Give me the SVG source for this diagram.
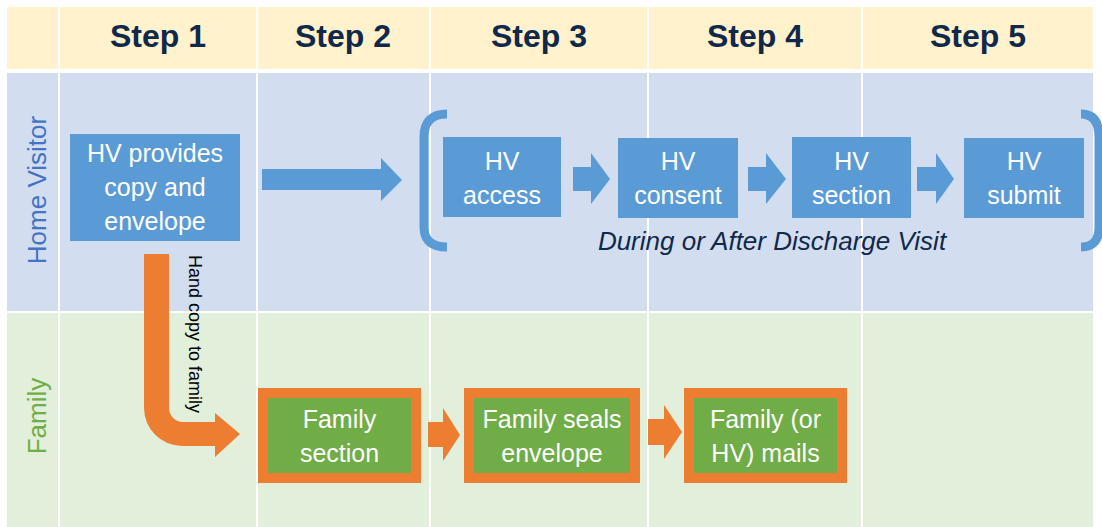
<svg xmlns="http://www.w3.org/2000/svg" width="1102" height="527" viewBox="0 0 1102 527">
<defs>
<style>
.hdr{font-family:"Liberation Sans",Arial,sans-serif;font-weight:bold;font-size:32px;fill:#10284A;text-anchor:middle}
.lane{font-family:"Liberation Sans",Arial,sans-serif;font-size:26px;text-anchor:middle}
.bt{font-family:"Liberation Sans",Arial,sans-serif;font-size:25px;fill:#ffffff;text-anchor:middle}
.blue{fill:#5B9BD5}
.orange{fill:#ED7D31}
.fam{fill:#70AD47;stroke:#ED7D31;stroke-width:10}
.brk{fill:none;stroke:#5B9BD5;stroke-width:9;stroke-linecap:butt}
.div{fill:#ffffff}
</style>
</defs>
<rect x="0" y="0" width="1102" height="527" fill="#ffffff"/>
<g id="table">
<rect x="7" y="7" width="1086" height="62" fill="#FFF2CC"/>
<rect x="7" y="73" width="1086" height="238" fill="#D2DEEF"/>
<rect x="7" y="313" width="1086" height="214" fill="#E2EFDA"/>
<rect class="div" x="58" y="7" width="2" height="520"/>
<rect class="div" x="256" y="7" width="2" height="520"/>
<rect class="div" x="429" y="7" width="2" height="520"/>
<rect class="div" x="647" y="7" width="2" height="520"/>
<rect class="div" x="861" y="7" width="2" height="520"/>
<text class="hdr" x="158" y="47">Step 1</text>
<text class="hdr" x="343" y="47">Step 2</text>
<text class="hdr" x="539" y="47">Step 3</text>
<text class="hdr" x="755" y="47">Step 4</text>
<text class="hdr" x="978" y="47">Step 5</text>
<text class="lane" fill="#4472C4" transform="translate(46,190) rotate(-90)">Home Visitor</text>
<text class="lane" fill="#70AD47" transform="translate(46,416) rotate(-90)" font-size="25">Family</text>
</g>
<g id="n-provides">
<rect class="blue" x="70" y="134" width="170" height="107"/>
<text class="bt" x="155" y="162">HV provides</text>
<text class="bt" x="155" y="196">copy and</text>
<text class="bt" x="155" y="230">envelope</text>
</g>
<g id="n-access">
<rect class="blue" x="443" y="137" width="118" height="80"/>
<text class="bt" x="502" y="170">HV</text>
<text class="bt" x="502" y="204">access</text>
</g>
<g id="n-consent">
<rect class="blue" x="618" y="138" width="120" height="80"/>
<text class="bt" x="678" y="170">HV</text>
<text class="bt" x="678" y="204">consent</text>
</g>
<g id="n-section">
<rect class="blue" x="792" y="137" width="119" height="81"/>
<text class="bt" x="851.5" y="170">HV</text>
<text class="bt" x="851.5" y="204">section</text>
</g>
<g id="n-submit">
<rect class="blue" x="964" y="138" width="120" height="80"/>
<text class="bt" x="1024" y="170">HV</text>
<text class="bt" x="1024" y="204">submit</text>
</g>
<g id="visit-group">
<path class="brk" d="M447,114 Q424,114 424,137 V227 Q424,247 447,247"/>
<path class="brk" d="M1081,114 Q1099,114 1099,137 V227 Q1099,247 1081,247"/>
<text x="772" y="250" font-family="'Liberation Sans',Arial,sans-serif" font-size="26" font-style="italic" fill="#10284A" text-anchor="middle">During or After Discharge Visit</text>
</g>
<g id="n-fam-section">
<rect class="fam" x="263" y="393" width="153" height="85"/>
<text class="bt" x="339.5" y="428">Family</text>
<text class="bt" x="339.5" y="462">section</text>
</g>
<g id="n-fam-seals">
<rect class="fam" x="469" y="393" width="166" height="85"/>
<text class="bt" x="552" y="428">Family seals</text>
<text class="bt" x="552" y="462">envelope</text>
</g>
<g id="n-fam-mails">
<rect class="fam" x="689" y="393" width="153" height="85"/>
<text class="bt" x="765.5" y="428">Family (or</text>
<text class="bt" x="765.5" y="462">HV) mails</text>
</g>
<g id="connectors">
<path class="blue" d="M262,169 H381 V158 L402,180 L381,201 V190 H262 Z"/>
<path class="blue" d="M573,167 H591 V153 L610,179 L591,204 V191 H573 Z"/>
<path class="blue" d="M748,167 H766 V153 L786,179 L766,204 V191 H748 Z"/>
<path class="blue" d="M917,167 H936 V153 L954,179 L936,204 V191 H917 Z"/>
<path class="orange" d="M144,254 H169 V408 A14,14 0 0 0 183,422 H215 V413 L240,434 L215,457 V446 H182 A38,38 0 0 1 144,408 Z"/>
<text transform="translate(189,255) rotate(90)" font-family="'Liberation Sans',Arial,sans-serif" font-size="18" fill="#000000">Hand copy to family</text>
<path class="orange" d="M428,422 H443 V408 L460,435 L443,461 V447 H428 Z"/>
<path class="orange" d="M648,419 H664 V405 L682,432 L664,459 V445 H648 Z"/>
</g>
</svg>
